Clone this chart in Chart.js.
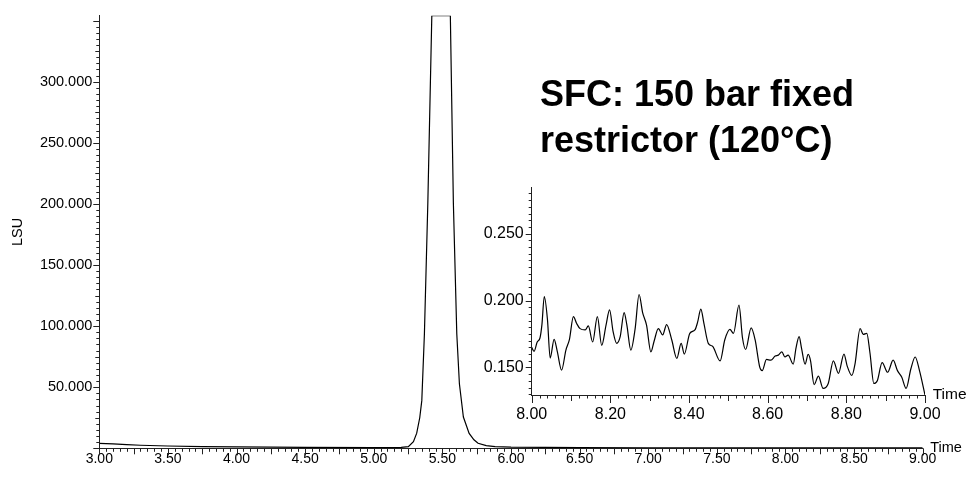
<!DOCTYPE html>
<html lang="en">
<head>
<meta charset="UTF-8" />
<script src="https://cdn.jsdelivr.net/npm/chart.js@4.4.0/dist/chart.umd.min.js"></script>
<title>SFC: 150 bar fixed restrictor</title>
<style>
  body { margin: 0; background: #fff; }
  .wrap { position: relative; width: 968px; height: 477px; }
  #main { position: absolute; left: 0; top: 0; }
  #inset { position: absolute; left: 440px; top: 170px; }
</style>
</head>
<body>
<div class="wrap">
  <canvas id="main" width="968" height="477"></canvas>
  <canvas id="inset" width="528" height="260"></canvas>
</div>
<script>
// full run, 3-9 min
const mainTime = [3.00, 3.10, 3.20, 3.30, 3.50, 3.75, 4.00, 4.50, 5.00, 5.20, 5.252, 5.289, 5.313, 5.335,
  5.350, 5.369, 5.394, 5.423, 5.558, 5.580, 5.605, 5.624, 5.653, 5.695, 5.730, 5.760, 5.820, 5.884,
  6.00, 6.50, 7.00, 8.00, 9.00]
const mainLSU = [4.1, 3.6, 3.0, 2.5, 1.9, 1.4, 1.1, 0.8, 0.6, 0.7, 1.3, 5.4, 12.4, 25,
  39, 93.6, 201, 354, 354, 201, 93.6, 52.8, 25.6, 12.2, 7.0, 4.1, 2.2, 1.3,
  0.9, 0.5, 0.4, 0.3, 0.3]

// zoomed baseline, 8-9 min
const insetTime = [8.000, 8.006, 8.014, 8.021, 8.026, 8.032, 8.040, 8.047, 8.057, 8.065, 8.076, 8.087,
  8.096, 8.106, 8.114, 8.123, 8.136, 8.144, 8.155, 8.167, 8.178, 8.189, 8.198, 8.207, 8.216, 8.225,
  8.235, 8.242, 8.252, 8.263, 8.273, 8.282, 8.292, 8.303, 8.311, 8.322, 8.333, 8.343, 8.356, 8.369,
  8.380, 8.388, 8.402, 8.415, 8.422, 8.430, 8.438, 8.449, 8.460, 8.479, 8.491, 8.504, 8.513, 8.527,
  8.536, 8.544, 8.558, 8.568, 8.580, 8.586, 8.597, 8.608, 8.619, 8.627, 8.636, 8.644, 8.652, 8.665,
  8.672, 8.680, 8.686, 8.695, 8.703, 8.709, 8.718, 8.729, 8.741, 8.754, 8.767, 8.780, 8.794, 8.802,
  8.814, 8.822, 8.835, 8.843, 8.852, 8.860, 8.870, 8.879, 8.891, 8.905, 8.919, 8.930, 8.941, 8.952,
  8.964, 8.975, 8.986, 9.000]
const insetLSU = [0.165, 0.162, 0.169, 0.172, 0.182, 0.203, 0.186, 0.157, 0.171, 0.162, 0.148, 0.163,
  0.171, 0.188, 0.183, 0.179, 0.178, 0.181, 0.169, 0.188, 0.1665, 0.1816, 0.193, 0.1767, 0.168, 0.173,
  0.191, 0.1816, 0.163, 0.179, 0.2045, 0.191, 0.1816, 0.1616, 0.1694, 0.179, 0.1743, 0.182, 0.1707, 0.1568,
  0.168, 0.160, 0.1755, 0.178, 0.184, 0.1936, 0.1827, 0.168, 0.1658, 0.1549, 0.1707, 0.1784, 0.1755, 0.1965,
  0.172, 0.1634, 0.1796, 0.1707, 0.150, 0.1476, 0.156, 0.1554, 0.1585, 0.1592, 0.1616, 0.1578, 0.1592, 0.1525,
  0.1645, 0.173, 0.1645, 0.1525, 0.1597, 0.1549, 0.1372, 0.1435, 0.1343, 0.138, 0.1549, 0.1456, 0.160, 0.1512,
  0.144, 0.1525, 0.179, 0.1747, 0.1755, 0.161, 0.138, 0.1403, 0.1536, 0.1464, 0.1554, 0.1476, 0.1427, 0.1343,
  0.1488, 0.1578, 0.1476, 0.1294]

// labelled ticks
const mainXLabels = [3.0, 3.5, 4.0, 4.5, 5.0, 5.5, 6.0, 6.5, 7.0, 7.5, 8.0, 8.5, 9.0]
const mainYLabels = [50, 100, 150, 200, 250, 300]
const insetXLabels = [8.0, 8.2, 8.4, 8.6, 8.8, 9.0]
const insetYLabels = [0.15, 0.2, 0.25]
const titleLines = ['SFC: 150 bar fixed', 'restrictor (120°C)']

const FONT = '"Liberation Sans", Arial, sans-serif'
Chart.defaults.font.family = FONT
Chart.defaults.color = '#000'

const steps = (min, max, step) => {
  const out = []
  const n = Math.round((max - min) / step)
  for (let i = 0; i <= n; i++) out.push(+(min + i * step).toFixed(4))
  return out
}
const isMult = (v, m) => m && Math.abs(v / m - Math.round(v / m)) < 1e-6
const has = (list, v) => list.some((l) => Math.abs(l - v) < 1e-6)

// tick marks (major / mid / minor) plus the "Time" label at the axis end
const tickMarks = {
  id: 'tickMarks',
  afterDraw(chart, args, opts) {
    const ctx = chart.ctx
    ctx.save()
    ctx.strokeStyle = '#222'
    ctx.lineWidth = 1
    ;['x', 'y'].forEach((id) => {
      const s = chart.scales[id]
      const m = opts[id]
      s.ticks.forEach((t) => {
        const len = isMult(t.value, m.major) ? m.len[0] : isMult(t.value, m.mid) ? m.len[1] : m.len[2]
        const p = Math.round(s.getPixelForValue(t.value)) + 0.5
        ctx.beginPath()
        if (id === 'x') {
          ctx.moveTo(p, s.top)
          ctx.lineTo(p, s.top + len)
        } else {
          ctx.moveTo(s.right, p)
          ctx.lineTo(s.right - len, p)
        }
        ctx.stroke()
      })
    })
    const xs = chart.scales.x
    ctx.fillStyle = '#000'
    ctx.font = opts.endFont + 'px ' + FONT
    ctx.textBaseline = 'middle'
    ctx.textAlign = 'left'
    ctx.fillText('Time', xs.right + opts.endGap, xs.top)
    if (opts.title) {
      ctx.font = 'bold 36px ' + FONT
      ctx.textBaseline = 'alphabetic'
      titleLines.forEach((line, i) => ctx.fillText(line, 540, 105.7 + i * 46))
    }
    ctx.restore()
  },
}

const axis = (extra) => Object.assign({
  type: 'linear',
  grid: { display: false, drawTicks: false },
  border: { display: true, color: '#222', width: 1 },
}, extra)

new Chart(document.getElementById('main'), {
  type: 'line',
  data: {
    datasets: [{
      data: mainTime.map((t, i) => ({ x: t, y: mainLSU[i] })),
      borderColor: '#000',
      borderWidth: 1.2,
      pointRadius: 0,
      tension: 0,
    }],
  },
  options: {
    responsive: false,
    animation: false,
    layout: { padding: { left: 0, right: 45.3, top: 12, bottom: 0 } },
    plugins: {
      legend: { display: false },
      tooltip: { enabled: false },
      tickMarks: {
        x: { major: 0.5, mid: 0.25, len: [7, 6, 3.5] },
        y: { major: 50, mid: 25, len: [6, 4, 3] },
        endFont: 14.5, endGap: 7.5, title: true,
      },
    },
    scales: {
      x: axis({
        min: 3, max: 9,
        afterBuildTicks: (s) => { s.ticks = steps(3, 9, 0.05).map((v) => ({ value: v })) },
        afterFit: (s) => { s.height = 28.7 },
        ticks: {
          autoSkip: false, maxRotation: 0, padding: 2, font: { size: 14 },
          callback: (v) => (has(mainXLabels, v) ? v.toFixed(2) : ''),
        },
      }),
      y: axis({
        min: 0, max: 354,
        afterBuildTicks: (s) => { s.ticks = steps(0, 350, 5).map((v) => ({ value: v })) },
        afterFit: (s) => { s.width = 99.3 },
        title: { display: true, text: 'LSU', font: { size: 14.5 }, padding: { top: 9.6, bottom: 0 } },
        ticks: {
          autoSkip: false, padding: 7, font: { size: 14.5 },
          callback: (v) => (has(mainYLabels, v) ? v.toFixed(3) : ''),
        },
      }),
    },
  },
  plugins: [tickMarks],
})

new Chart(document.getElementById('inset'), {
  type: 'line',
  data: {
    datasets: [{
      data: insetTime.map((t, i) => ({ x: t, y: insetLSU[i] })),
      borderColor: '#000',
      borderWidth: 1.2,
      pointRadius: 0,
      cubicInterpolationMode: 'monotone',
    }],
  },
  options: {
    responsive: false,
    animation: false,
    layout: { padding: { left: 0, right: 43, top: 11.7, bottom: 0 } },
    plugins: {
      legend: { display: false },
      tooltip: { enabled: false },
      tickMarks: {
        x: { major: 0.2, mid: 0.1, len: [8, 6, 3.5] },
        y: { major: 0.05, mid: 0, len: [6, 3, 3] },
        endFont: 15.5, endGap: 7.7, title: false,
      },
    },
    scales: {
      x: axis({
        min: 8, max: 9,
        afterBuildTicks: (s) => { s.ticks = steps(8, 9, 0.02).map((v) => ({ value: v })) },
        afterFit: (s) => { s.height = 35 },
        ticks: {
          autoSkip: false, maxRotation: 0, padding: 10, font: { size: 16 },
          callback: (v) => (has(insetXLabels, v) ? v.toFixed(2) : ''),
        },
      }),
      y: axis({
        min: 0.1294, max: 0.2844,
        afterBuildTicks: (s) => { s.ticks = steps(0.13, 0.28, 0.005).map((v) => ({ value: v })) },
        afterFit: (s) => { s.width = 91.7 },
        ticks: {
          autoSkip: false, padding: 8, font: { size: 16 },
          callback: (v) => (has(insetYLabels, v) ? v.toFixed(3) : ''),
        },
      }),
    },
  },
  plugins: [tickMarks],
})
</script>
</body>
</html>
